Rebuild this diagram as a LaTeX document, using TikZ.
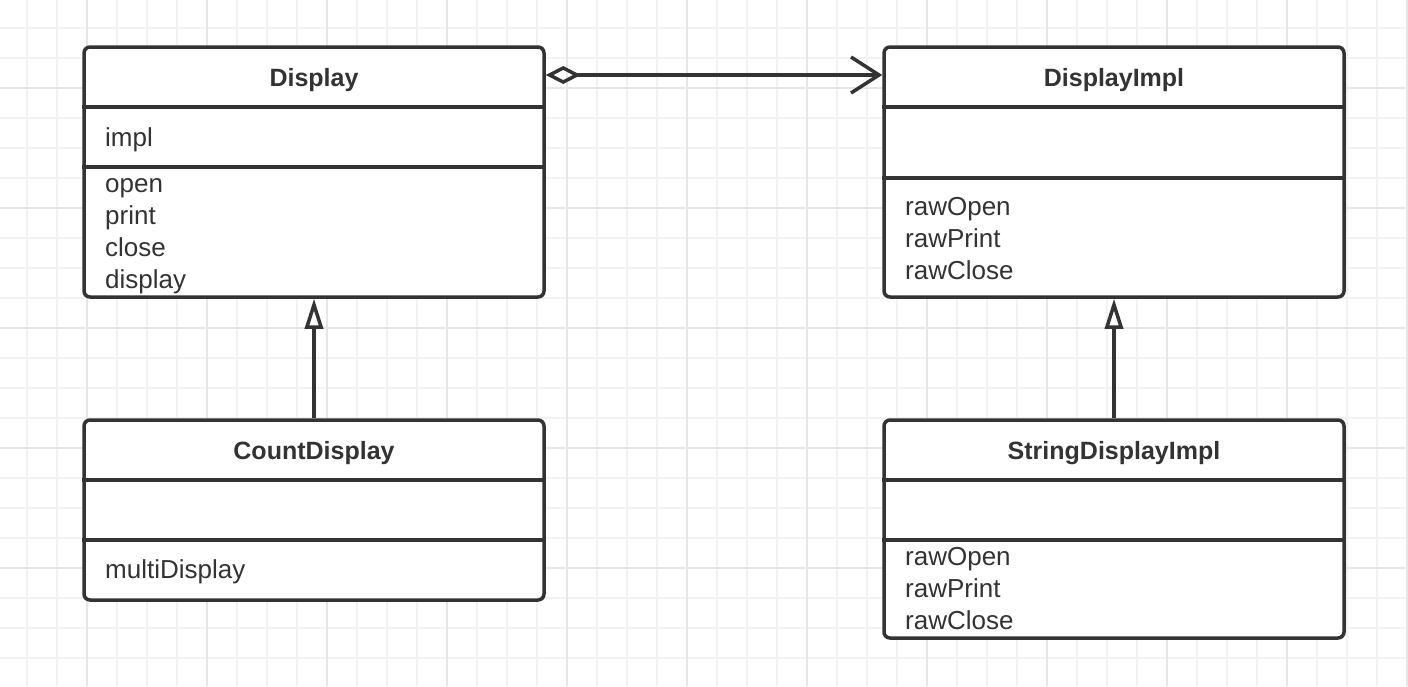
\documentclass[tikz,border=0pt]{standalone}
\usepackage{fontspec}
\setmainfont{Liberation Sans}
\usetikzlibrary{arrows.meta}
\definecolor{ink}{HTML}{333333}
\definecolor{gridminor}{HTML}{F2F2F2}
\definecolor{gridmajor}{HTML}{E6E6E6}

\begin{document}
\begin{tikzpicture}[x=1pt, y=-1pt,
    classbox/.style={draw=ink, line width=3.5pt, rounded corners=6pt, fill=white, inner sep=0pt},
    divider/.style={draw=ink, line width=3.5pt},
    classname/.style={font=\fontsize{25}{32}\selectfont\bfseries, text=ink, anchor=base, inner sep=0pt},
    member/.style={font=\fontsize{26}{32}\selectfont, text=ink, anchor=base west, inner sep=0pt},
    aggr/.style={draw=ink, line width=3.5pt, {Diamond[open, length=35pt, width=18pt]}-{Straight Barb[length=28pt, width=36pt]}},
    inherit/.style={draw=ink, line width=3.5pt, -{Triangle[open, length=30pt, width=18pt]}}]
  \useasboundingbox (0,0) rectangle (1408,686);
  \fill[white] (0,0) rectangle (1408,686);
  % background grid
  \foreach \x in {27,57,...,1407} \draw[gridminor, line width=1.5pt] (\x,0) -- (\x,686);
  \foreach \y in {28,58,...,686} \draw[gridminor, line width=1.5pt] (0,\y) -- (1408,\y);
  \foreach \x in {87,207,...,1407} \draw[gridmajor, line width=1.5pt] (\x,0) -- (\x,686);
  \foreach \y in {88,208,...,686} \draw[gridmajor, line width=1.5pt] (0,\y) -- (1408,\y);

  % classes
  \node [classbox, minimum width=460pt, minimum height=250pt] at (314, 172) (disp) {};
  \node [classbox, minimum width=460pt, minimum height=250pt] at (1114, 172) (impl) {};
  \node [classbox, minimum width=460pt, minimum height=180pt] at (314, 510) (count) {};
  \node [classbox, minimum width=460pt, minimum height=218pt] at (1114, 529) (strimpl) {};

  \draw [divider] (disp.west |- 0,107) -- (disp.east |- 0,107);
  \draw [divider] (disp.west |- 0,167) -- (disp.east |- 0,167);
  \draw [divider] (impl.west |- 0,107) -- (impl.east |- 0,107);
  \draw [divider] (impl.west |- 0,178) -- (impl.east |- 0,178);
  \draw [divider] (count.west |- 0,480) -- (count.east |- 0,480);
  \draw [divider] (count.west |- 0,540) -- (count.east |- 0,540);
  \draw [divider] (strimpl.west |- 0,480) -- (strimpl.east |- 0,480);
  \draw [divider] (strimpl.west |- 0,540) -- (strimpl.east |- 0,540);

  \node [classname] at (314, 86) (dispname) {Display};
  \node [member] at (105, 146) (dispimpl) {impl};
  \node [member] at (105, 192) (dispopen) {open};
  \node [member] at (105, 224) (dispprint) {print};
  \node [member] at (105, 256) (dispclose) {close};
  \node [member] at (105, 288) (dispdisplay) {display};

  \node [classname] at (1114, 86) (implname) {DisplayImpl};
  \node [member] at (905, 215) (implopen) {rawOpen};
  \node [member] at (905, 247) (implprint) {rawPrint};
  \node [member] at (905, 279) (implclose) {rawClose};

  \node [classname] at (314, 459) (countname) {CountDisplay};
  \node [member] at (105, 578) (countmulti) {multiDisplay};

  \node [classname] at (1114, 459) (strname) {StringDisplayImpl};
  \node [member] at (905, 565) (stropen) {rawOpen};
  \node [member] at (905, 597) (strprint) {rawPrint};
  \node [member] at (905, 629) (strclose) {rawClose};

  % relations
  \draw [aggr] (disp.east |- 0,75) -- (impl.west |- 0,75);
  \draw [inherit] (count.north) -- (disp.south);
  \draw [inherit] (strimpl.north) -- (impl.south);
\end{tikzpicture}
\end{document}
